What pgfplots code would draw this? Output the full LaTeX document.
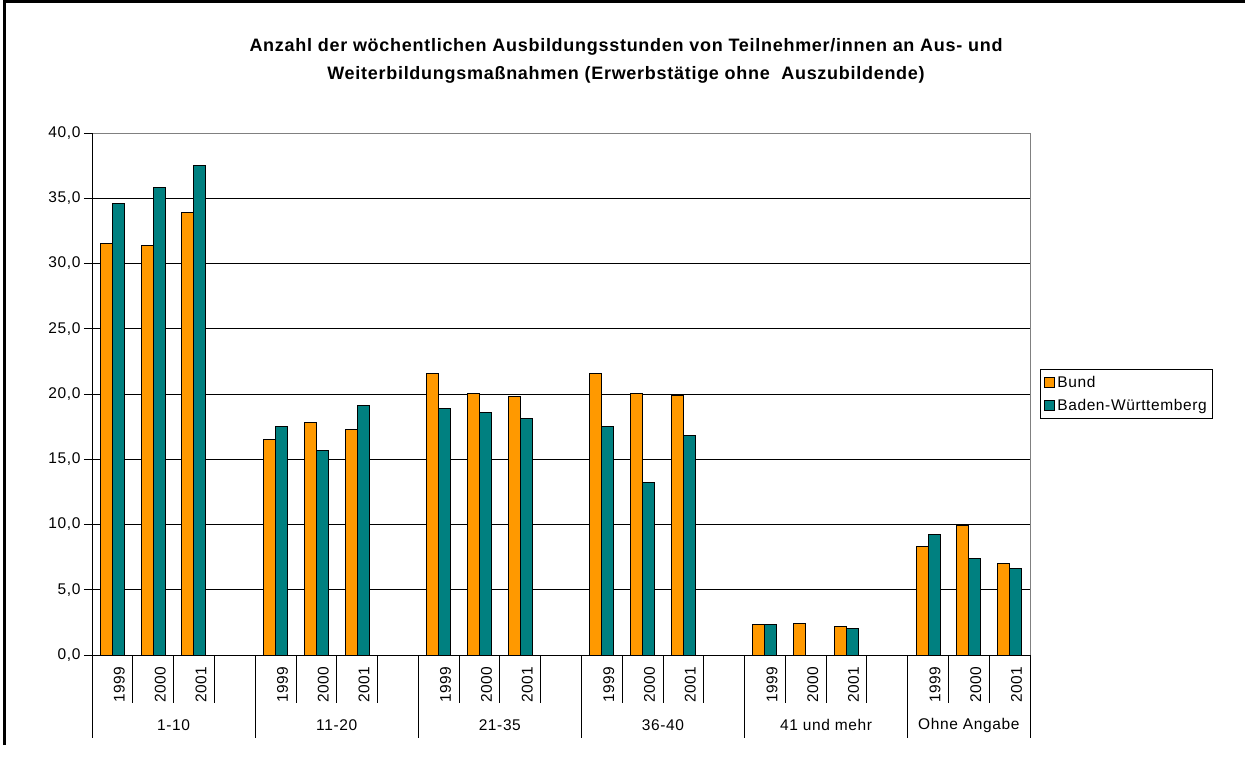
\documentclass[border=0pt]{standalone}
\usepackage{fontspec}
\setmainfont{Liberation Sans}[LetterSpace=4]
\usepackage{pgfplots}
\pgfplotsset{compat=1.18}
\definecolor{bund}{HTML}{FF9900}
\definecolor{bw}{HTML}{008080}
\newcommand{\tf}{\fontsize{15.5}{18}\selectfont}
\begin{document}
\begin{tikzpicture}
\useasboundingbox (0pt,0pt) rectangle (1245pt,758pt);
\draw[line width=3pt] (4pt,13pt) -- (4pt,756.5pt) -- (1245pt,756.5pt);
\node[font=\fontsize{18}{28}\selectfont\bfseries, align=center] at (626pt,697pt) {Anzahl der wöchentlichen Ausbildungsstunden von Teilnehmer/innen an Aus- und\\Weiterbildungsmaßnahmen (Erwerbstätige ohne \ Auszubildende)};
\begin{axis}[
  at={(92pt,103pt)}, anchor=south west, scale only axis,
  width=938pt, height=522pt,
  xmin=-0.5, xmax=22.5, ymin=0, ymax=40,
  ybar=0pt, bar width=12pt,
  ytick={0,5,...,40}, ytick pos=left,
  ymajorgrids, grid style={black, line width=0.8pt},
  axis line style={draw=gray, line width=0.8pt},
  tick align=outside, major tick length=8pt,
  ytick style={black, line width=0.8pt},
  yticklabel style={font=\tf, /pgf/number format/.cd, fixed, fixed zerofill, precision=1, use comma, assume math mode=true},
  xtick={0,1,2,4,5,6,8,9,10,12,13,14,16,17,18,20,21,22},
  xticklabels={1999,2000,2001,1999,2000,2001,1999,2000,2001,1999,2000,2001,1999,2000,2001,1999,2000,2001},
  xtick style={draw=none},
  x tick label style={rotate=90, anchor=east, font=\tf, yshift=-7pt},
  clip=false,
  legend style={at={(1.0107,0.5)}, anchor=west, draw=black, line width=0.8pt, font=\tf, row sep=6pt, inner xsep=4pt, inner ysep=5pt},
  legend cell align=left,
  legend image code/.code={\draw[#1, draw=black, line width=0.9pt] (0pt,-5pt) rectangle (10pt,5pt);},
]
\addplot[fill=bund, draw=black, line width=1pt] coordinates {
(0,31.5)(1,31.4)(2,33.9)(4,16.5)(5,17.8)(6,17.3)(8,21.6)(9,20.0)(10,19.8)(12,21.6)(13,20.0)(14,19.9)(16,2.3)(17,2.4)(18,2.2)(20,8.3)(21,9.9)(22,7.0)};
\addplot[fill=bw, draw=black, line width=1pt] coordinates {
(0,34.6)(1,35.8)(2,37.5)(4,17.5)(5,15.7)(6,19.1)(8,18.9)(9,18.6)(10,18.1)(12,17.5)(13,13.2)(14,16.8)(16,2.3)(18,2.0)(20,9.2)(21,7.4)(22,6.6)};
\legend{Bund,Baden-Württemberg}
\draw[black, line width=0.8pt] (rel axis cs:0,0) -- (rel axis cs:0,1);
\draw[black, line width=0.8pt] (rel axis cs:0,0) -- (rel axis cs:1,0);
\pgfplotsinvokeforeach{0.5,1.5,2.5,4.5,5.5,6.5,8.5,9.5,10.5,12.5,13.5,14.5,16.5,17.5,18.5,20.5,21.5}{
  \draw[black, line width=0.8pt] (axis cs:#1,0) -- ([yshift=-48pt]axis cs:#1,0);
}
\pgfplotsinvokeforeach{-0.5,3.5,7.5,11.5,15.5,19.5,22.5}{
  \draw[black, line width=0.8pt] (axis cs:#1,0) -- ([yshift=-83pt]axis cs:#1,0);
}
\node[font=\tf] at (axis cs:1.5,0) [yshift=-70pt] {1-10};
\node[font=\tf] at (axis cs:5.5,0) [yshift=-70pt] {11-20};
\node[font=\tf] at (axis cs:9.5,0) [yshift=-70pt] {21-35};
\node[font=\tf] at (axis cs:13.5,0) [yshift=-70pt] {36-40};
\node[font=\tf] at (axis cs:17.5,0) [yshift=-70pt] {41 und mehr};
\node[font=\tf] at (axis cs:21,0) [yshift=-70pt] {Ohne Angabe};
\end{axis}
\end{tikzpicture}
\end{document}
